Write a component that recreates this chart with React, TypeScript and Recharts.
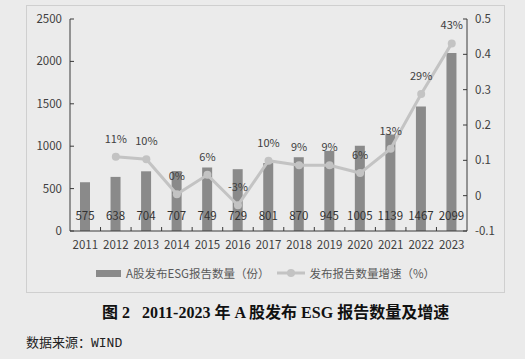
import { Bar, ComposedChart, LabelList, Legend, Line, XAxis, YAxis } from "recharts";

const years = ["2011", "2012", "2013", "2014", "2015", "2016", "2017", "2018", "2019", "2020", "2021", "2022", "2023"];
const reportCounts = [575, 638, 704, 707, 749, 729, 801, 870, 945, 1005, 1139, 1467, 2099];
const growthRates = [null, 0.11, 0.103, 0.004, 0.059, -0.027, 0.099, 0.086, 0.086, 0.064, 0.133, 0.288, 0.431];
const countTicks = [0, 500, 1000, 1500, 2000, 2500];
const growthTicks = [-0.1, 0, 0.1, 0.2, 0.3, 0.4, 0.5];

const countName = "A股发布ESG报告数量（份）";
const growthName = "发布报告数量增速（%）";

const data = years.map((year, i) => ({ year, count: reportCounts[i], growth: growthRates[i] }));

const FONT = '"Noto Sans CJK SC", "Noto Sans", sans-serif';
const TEXT = "#404040";
const AXIS = "#3a3a3a";
const BAR = "#8a8a8a";
const LINE = "#c3c3c3";
const TICK_MARGIN = 8;

function LeftTick(props: any) {
  const { x, y, payload } = props;
  return (
    <g>
      <line x1={x + TICK_MARGIN} x2={x + TICK_MARGIN + 4} y1={y} y2={y} stroke={AXIS} />
      <text x={x} y={y} dy="0.35em" textAnchor="end" fill={TEXT} fontSize={11.5} fontFamily={FONT}>
        {payload.value}
      </text>
    </g>
  );
}

function RightTick(props: any) {
  const { x, y, payload } = props;
  return (
    <g>
      <line x1={x - TICK_MARGIN} x2={x - TICK_MARGIN - 4} y1={y} y2={y} stroke={AXIS} />
      <text x={x} y={y} dy="0.35em" textAnchor="start" fill={TEXT} fontSize={11.5} fontFamily={FONT}>
        {String(payload.value)}
      </text>
    </g>
  );
}

function YearTick(props: any) {
  const { x, y, payload, index, width, visibleTicksCount } = props;
  const count = visibleTicksCount || years.length;
  const step = (width || 397) / count;
  const axisY = y - 14;
  return (
    <g>
      {index < count - 1 && (
        <line x1={x + step / 2} x2={x + step / 2} y1={axisY} y2={axisY - 4} stroke={AXIS} />
      )}
      <text x={x} y={y} dy="0.35em" textAnchor="middle" fill={TEXT} fontSize={11.5} fontFamily={FONT}>
        {payload.value}
      </text>
    </g>
  );
}

function CountLabel(props: any) {
  const vb = props.viewBox || props;
  const { value } = props;
  if (value == null) return null;
  return (
    <text
      x={vb.x + vb.width / 2}
      y={vb.y + vb.height - 15}
      dy="0.35em"
      textAnchor="middle"
      fill="#333"
      fontSize={11.5}
      fontFamily={FONT}
    >
      {value}
    </text>
  );
}

function GrowthLabel(props: any) {
  const { x, y, value } = props;
  if (value == null) return null;
  return (
    <text x={x} y={y - 18} dy="0.35em" textAnchor="middle" fill={TEXT} fontSize={11} fontFamily={FONT}>
      {`${Math.round(value * 100)}%`}
    </text>
  );
}

function LegendContent() {
  return (
    <div
      style={{
        height: 16,
        display: "flex",
        justifyContent: "center",
        alignItems: "center",
        fontFamily: FONT,
        fontSize: 11.5,
        color: "#595959",
        whiteSpace: "nowrap",
      }}
    >
      <span style={{ display: "inline-block", width: 25, height: 7, background: BAR, marginRight: 5 }} />
      <span>{countName}</span>
      <svg width={28} height={10} style={{ margin: "0 4px 0 8px" }}>
        <line x1={0} x2={28} y1={5} y2={5} stroke={LINE} strokeWidth={3} />
        <circle cx={14} cy={5} r={4} fill={LINE} />
      </svg>
      <span>{growthName}</span>
    </div>
  );
}

export default function App() {
  return (
    <div style={{ position: "absolute", left: 0, top: 0, width: 525, height: 359, background: "#ebebeb" }}>
      <div
        style={{
          position: "absolute",
          left: 26,
          top: 5,
          width: 477,
          height: 286,
          border: "1px solid #cfcfcf",
        }}
      >
        <ComposedChart width={477} height={286} data={data} margin={{ top: 13, right: 0, bottom: 11, left: 0 }}>
          <XAxis
            dataKey="year"
            height={34}
            stroke={AXIS}
            tickLine={false}
            tickSize={0}
            tickMargin={14}
            interval={0}
            tick={<YearTick />}
          />
          <YAxis
            yAxisId="left"
            width={43}
            domain={[0, 2500]}
            ticks={countTicks}
            stroke={AXIS}
            tickLine={false}
            tickSize={0}
            tickMargin={TICK_MARGIN}
            tick={<LeftTick />}
          />
          <YAxis
            yAxisId="right"
            orientation="right"
            width={37}
            domain={[-0.1, 0.5]}
            ticks={growthTicks}
            stroke={AXIS}
            tickLine={false}
            tickSize={0}
            tickMargin={TICK_MARGIN}
            tick={<RightTick />}
          />
          <Legend verticalAlign="bottom" content={<LegendContent />} />
          <Bar yAxisId="left" dataKey="count" name={countName} fill={BAR} barSize={10} isAnimationActive={false}>
            <LabelList dataKey="count" content={<CountLabel />} />
          </Bar>
          <Line
            yAxisId="right"
            dataKey="growth"
            name={growthName}
            stroke={LINE}
            strokeWidth={3}
            dot={{ r: 4, fill: LINE, stroke: LINE, strokeWidth: 0 }}
            isAnimationActive={false}
          >
            <LabelList dataKey="growth" content={<GrowthLabel />} />
          </Line>
        </ComposedChart>
      </div>
      <div
        style={{
          position: "absolute",
          left: 102,
          top: 299,
          fontFamily: '"Liberation Serif", "Noto Sans CJK SC", serif',
          fontWeight: "bold",
          fontSize: 16,
          color: "#111",
          whiteSpace: "pre",
        }}
      >
        {"图 2   2011-2023 年 A 股发布 ESG 报告数量及增速"}
      </div>
      <div
        style={{
          position: "absolute",
          left: 26,
          top: 332,
          fontFamily: '"Liberation Mono", "Noto Sans CJK SC", monospace',
          fontSize: 13,
          color: "#222",
        }}
      >
        数据来源：WIND
      </div>
    </div>
  );
}
